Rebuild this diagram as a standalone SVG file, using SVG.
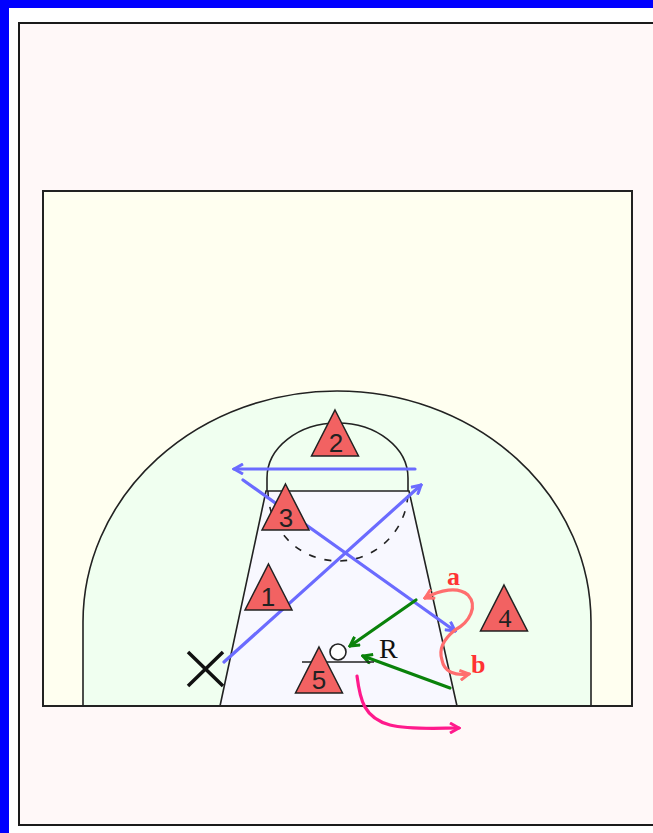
<svg xmlns="http://www.w3.org/2000/svg" width="653" height="833" viewBox="0 0 653 833">
<style>
.line{fill:none;stroke:#222;stroke-width:1.6}
.tri{fill:#f26262;stroke:#222;stroke-width:1.5}
.num{font-family:"Liberation Sans",Arial,sans-serif;font-size:26px;fill:#222;text-anchor:middle}
.blue{fill:none;stroke:#6b6bff;stroke-width:3.2;stroke-linecap:round}
.green{fill:none;stroke:#0a820a;stroke-width:3.2;stroke-linecap:round}
.salmon{fill:none;stroke:#ff6e6e;stroke-width:3.2;stroke-linecap:round}
.pink{fill:none;stroke:#ff1a8c;stroke-width:3.2;stroke-linecap:round}
.lbl{font-family:"Liberation Serif","Times New Roman",serif;font-size:26px;font-weight:bold;fill:#ff3333}
</style>
<defs>
<marker id="ab" viewBox="0 0 12 12" refX="10" refY="6" markerWidth="12" markerHeight="12" markerUnits="userSpaceOnUse" orient="auto"><path d="M1,1 L10,6 L1,11" fill="none" stroke="#6b6bff" stroke-width="3"/></marker>
<marker id="ag" viewBox="0 0 12 12" refX="10" refY="6" markerWidth="12" markerHeight="12" markerUnits="userSpaceOnUse" orient="auto"><path d="M1,1 L10,6 L1,11" fill="none" stroke="#0a820a" stroke-width="3"/></marker>
<marker id="as" viewBox="0 0 12 12" refX="10" refY="6" markerWidth="12" markerHeight="12" markerUnits="userSpaceOnUse" orient="auto"><path d="M1,1 L10,6 L1,11" fill="none" stroke="#ff6e6e" stroke-width="3"/></marker>
<marker id="ap" viewBox="0 0 12 12" refX="10" refY="6" markerWidth="12" markerHeight="12" markerUnits="userSpaceOnUse" orient="auto"><path d="M1,1 L10,6 L1,11" fill="none" stroke="#ff1a8c" stroke-width="3"/></marker>
<path id="tr" d="M0,-46 L23.5,0 L-23.5,0 Z"/>
</defs>

<rect x="0" y="0" width="653" height="833" fill="#ffffff"/>
<rect x="0" y="0" width="653" height="8" fill="#0000ff"/>
<rect x="0" y="0" width="9" height="833" fill="#0000ff"/>
<rect x="19" y="23" width="660" height="802" fill="#fff8f8" stroke="#1a1a1a" stroke-width="2"/>

<g id="court">
<rect x="43" y="191" width="589" height="515" fill="#fffff0" stroke="#222" stroke-width="2"/>
<path d="M83,706 L83,622 A254,231 0 0 1 591,622 L591,706 Z" fill="#f0fff0" stroke="#222" stroke-width="1.6"/>
<path d="M267,491 L267,478 A70.5,55 0 0 1 408,478 L408,491" fill="none" stroke="#222" stroke-width="1.6"/>
<path d="M266,491 L409,491 L457,706 L220,706 Z" fill="#f8f8ff" stroke="#222" stroke-width="1.6"/>
<path d="M268,491 A70,70 0 0 0 408,491" fill="none" stroke="#222" stroke-width="1.6" stroke-dasharray="7 9"/>
<line x1="43" y1="706" x2="632" y2="706" stroke="#222" stroke-width="2"/>
</g>

<g id="connectors">
<path class="blue" d="M224,662 L421,485" marker-end="url(#ab)"/>
<path class="blue" d="M415,469 L234,469" marker-end="url(#ab)"/>
<path class="blue" d="M243,480 L455,631" marker-end="url(#ab)"/>
<path class="green" d="M416,600 L350,646" marker-end="url(#ag)"/>
<path class="green" d="M450,688 L363,656" marker-end="url(#ag)"/>
<path class="salmon" d="M455,630 C470,622 478,606 468,595 C458,586 440,590 425,598" marker-end="url(#as)"/>
<path class="salmon" d="M455,630 C445,638 438,648 442,660 C444,672 455,676 469,674" marker-end="url(#as)"/>
<path class="pink" d="M357,676 C360,700 364,718 390,725 C410,730 440,728 459,728" marker-end="url(#ap)"/>
<text class="lbl" x="447" y="585">a</text>
<text class="lbl" x="471" y="673">b</text>
</g>

<g id="rebound">
<line x1="302" y1="662" x2="374" y2="662" stroke="#222" stroke-width="1.6"/>
<circle cx="338" cy="652" r="8" fill="#ffffff" stroke="#222" stroke-width="1.6"/>
<text x="379" y="658" style="font-family:'Liberation Serif','Times New Roman',serif;font-size:28px;fill:#111">R</text>
</g>

<g id="player2"><use href="#tr" x="335" y="456" class="tri"/><text class="num" x="336" y="452">2</text></g>
<g id="player3"><use href="#tr" x="285.5" y="530" class="tri"/><text class="num" x="286" y="527">3</text></g>
<g id="player1"><use href="#tr" x="268.5" y="610" class="tri"/><text class="num" x="268" y="606">1</text></g>
<g id="player5"><use href="#tr" x="319" y="693" class="tri"/><text class="num" x="319" y="689">5</text></g>
<g id="player4"><use href="#tr" x="504" y="631" class="tri"/><text class="num" x="505" y="627" style="font-family:'Liberation Serif',serif">4</text></g>

<g id="x-mark"><path d="M188,652 L223,686 M223,652 L188,686" stroke="#111" stroke-width="3.5" fill="none"/></g>
</svg>
